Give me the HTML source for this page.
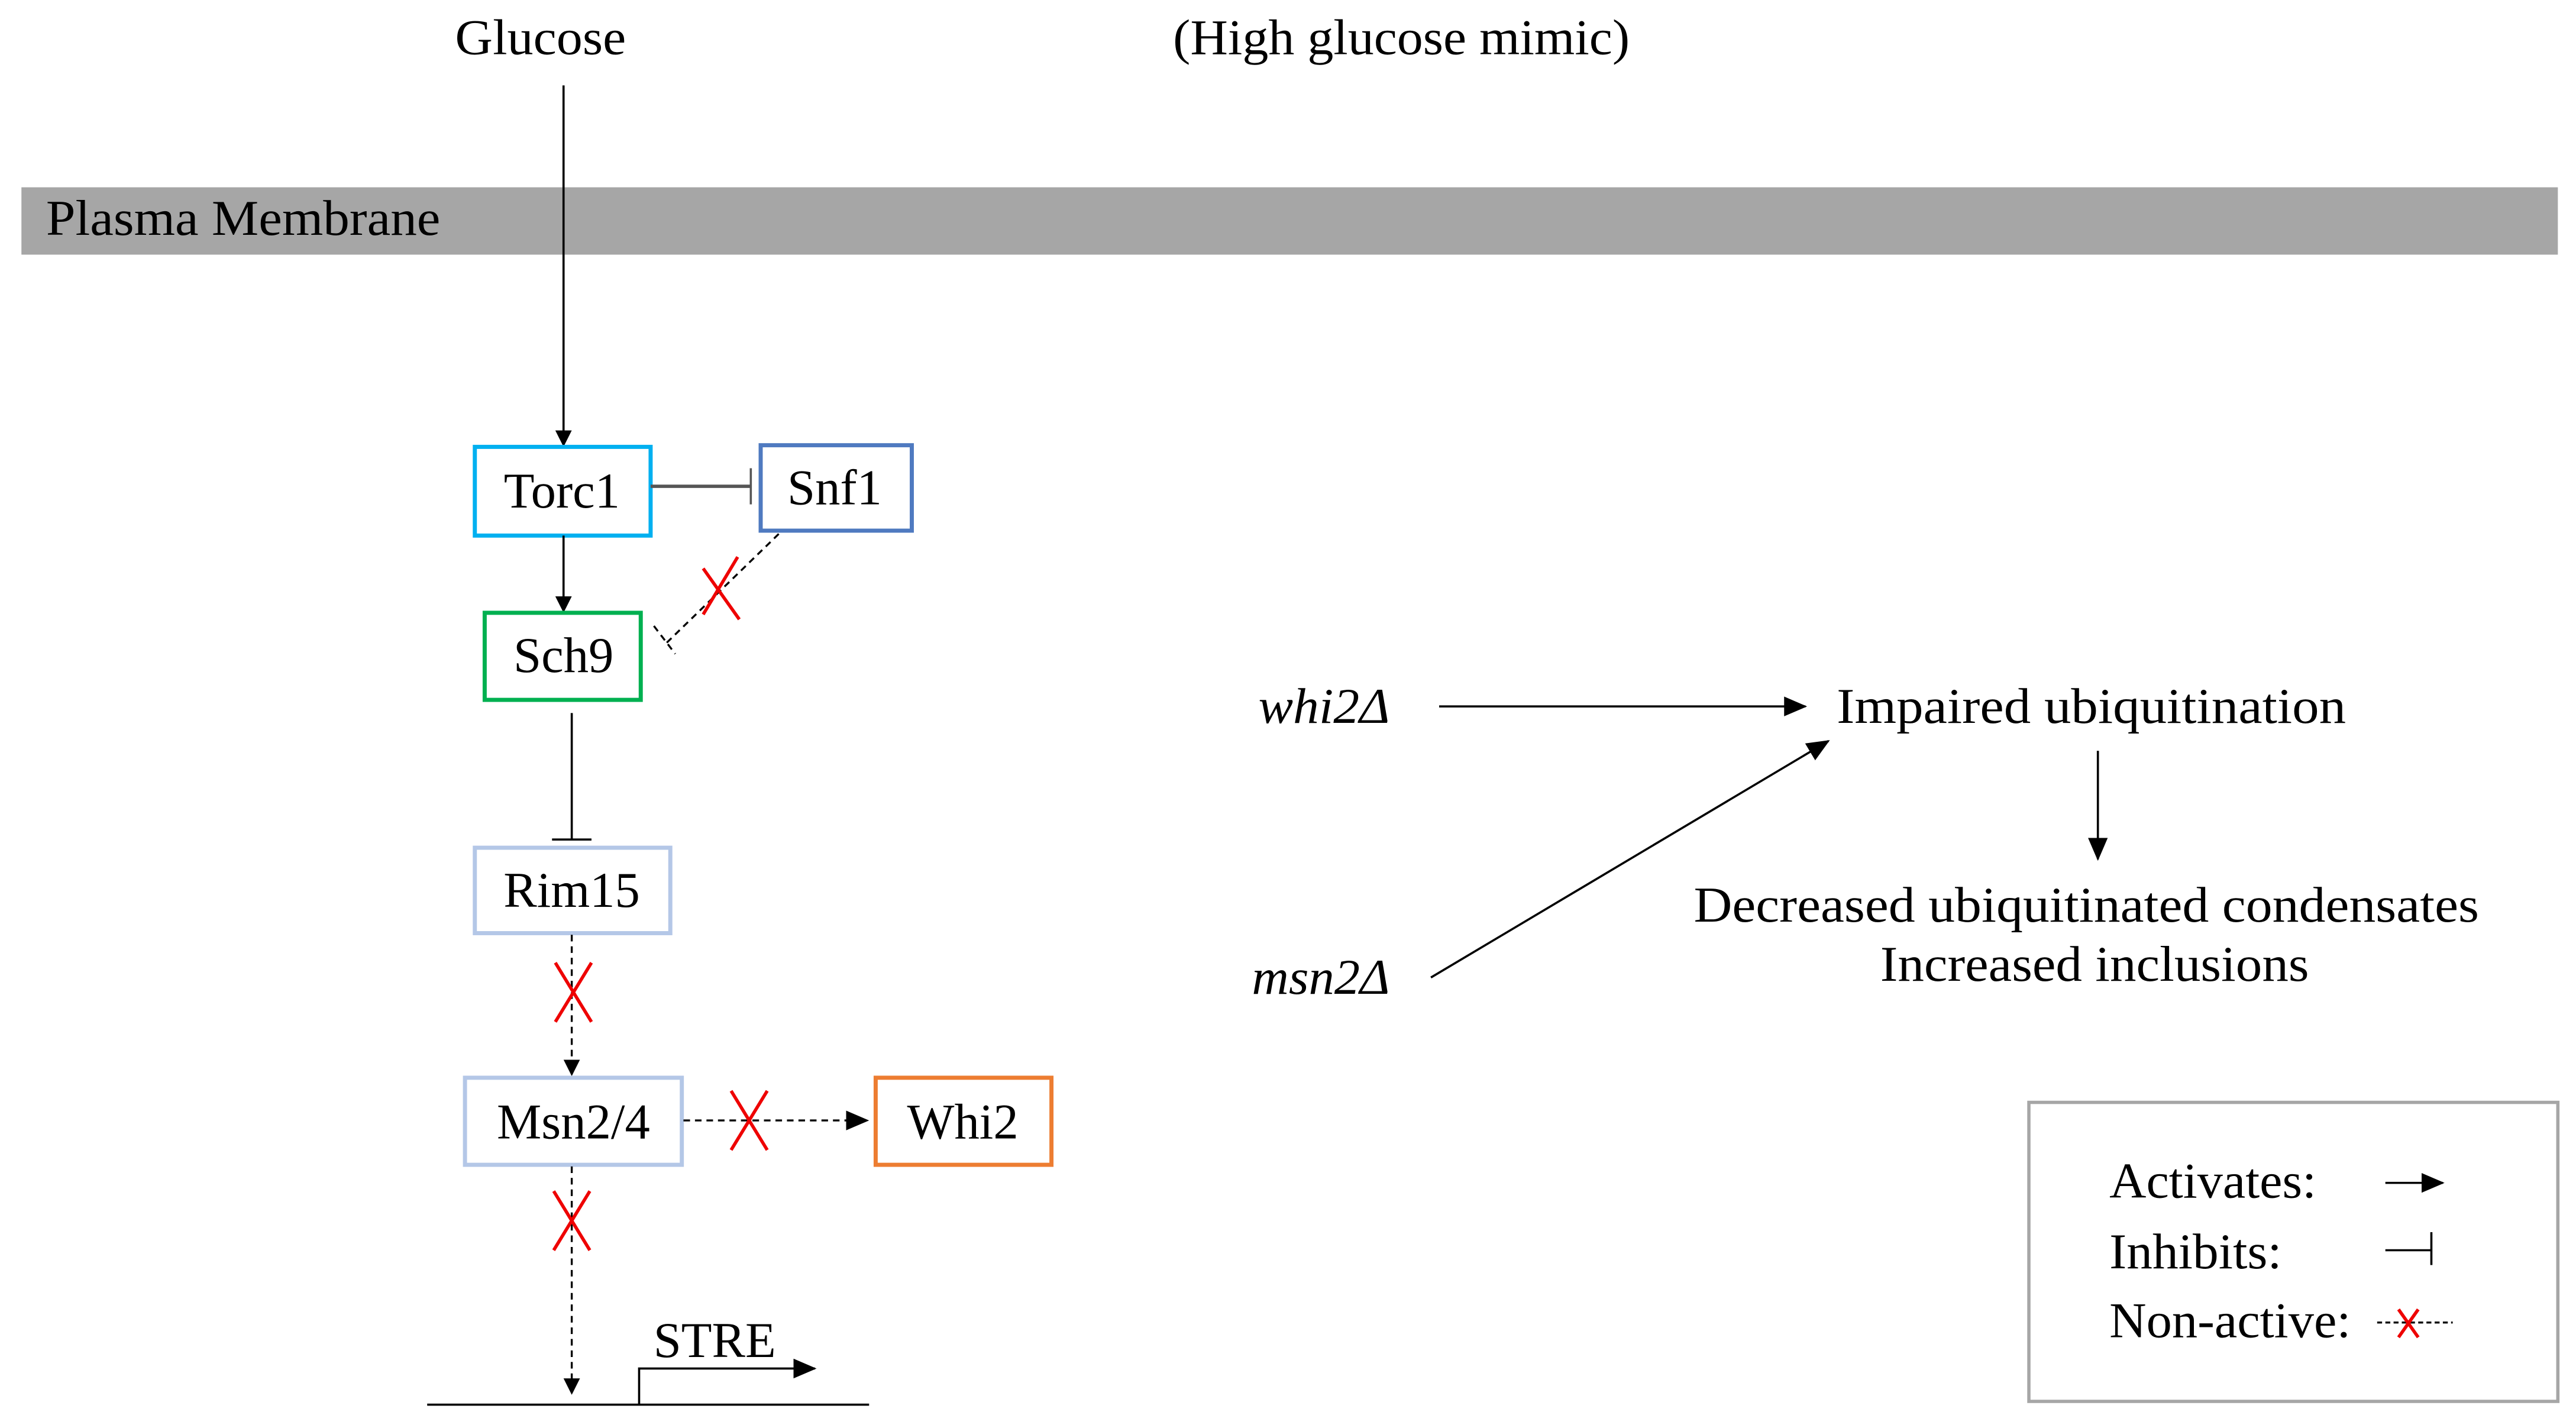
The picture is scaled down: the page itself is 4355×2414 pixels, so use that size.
<!DOCTYPE html>
<html><head><meta charset="utf-8"><style>html,body{margin:0;padding:0;background:#fff}svg{display:block}</style></head>
<body>
<svg xmlns="http://www.w3.org/2000/svg" width="4355" height="2414" viewBox="0 0 1568 869.2">
<defs>
<marker id="a" markerWidth="10" markerHeight="10" refX="9" refY="5" orient="auto" markerUnits="userSpaceOnUse"><path d="M0,0 L10,5 L0,10 Z" fill="#000"/></marker>
<marker id="b" markerWidth="14" markerHeight="12" refX="13" refY="6" orient="auto" markerUnits="userSpaceOnUse"><path d="M0,0 L14,6 L0,12 Z" fill="#000"/></marker>
</defs>
<rect width="1568" height="870" fill="#fff"/>
<g font-family="Liberation Serif, serif" font-size="30.5" fill="#000">
<text x="329" y="33" text-anchor="middle" textLength="104" lengthAdjust="spacingAndGlyphs">Glucose</text>
<text x="853" y="33" text-anchor="middle" textLength="278" lengthAdjust="spacingAndGlyphs">(High glucose mimic)</text>
<rect x="13" y="114" width="1544" height="41" fill="#a6a6a6"/>
<text x="28" y="143" textLength="240" lengthAdjust="spacingAndGlyphs">Plasma Membrane</text>

<line x1="343" y1="52" x2="343" y2="271" stroke="#000" stroke-width="1.3" marker-end="url(#a)"/>
<rect x="289" y="272" width="107" height="54" fill="#fff" stroke="#00b0f0" stroke-width="2.5"/>
<text x="342" y="309" text-anchor="middle">Torc1</text>
<rect x="463" y="271" width="92" height="52" fill="#fff" stroke="#4f7ac0" stroke-width="2.5"/>
<text x="508" y="307" text-anchor="middle">Snf1</text>
<line x1="396" y1="296" x2="457" y2="296" stroke="#555" stroke-width="2"/>
<line x1="457" y1="285" x2="457" y2="307" stroke="#555" stroke-width="1.3"/>
<line x1="343" y1="326" x2="343" y2="372" stroke="#000" stroke-width="1.3" marker-end="url(#a)"/>
<rect x="295" y="373" width="95" height="53" fill="#fff" stroke="#00b050" stroke-width="2.5"/>
<text x="343" y="409" text-anchor="middle">Sch9</text>
<line x1="474" y1="325" x2="405" y2="392" stroke="#000" stroke-width="1.2" stroke-dasharray="4,3"/>
<line x1="398" y1="381" x2="411" y2="398" stroke="#000" stroke-width="1.2" stroke-dasharray="4,3"/>
<g stroke="#e00" stroke-width="2"><line x1="428" y1="346" x2="450" y2="377"/><line x1="449" y1="339" x2="428" y2="374"/></g>

<line x1="348" y1="434" x2="348" y2="511" stroke="#000" stroke-width="1.3"/>
<line x1="336" y1="511" x2="360" y2="511" stroke="#000" stroke-width="1.3"/>
<rect x="289" y="516" width="119" height="52" fill="#fff" stroke="#b4c7e7" stroke-width="2.5"/>
<text x="348" y="552" text-anchor="middle">Rim15</text>
<line x1="348" y1="569" x2="348" y2="654" stroke="#000" stroke-width="1.2" stroke-dasharray="4,3" marker-end="url(#a)"/>
<g stroke="#e00" stroke-width="2"><line x1="338" y1="586" x2="360" y2="622"/><line x1="360" y1="586" x2="338" y2="622"/></g>
<rect x="283" y="656" width="132" height="53" fill="#fff" stroke="#b4c7e7" stroke-width="2.5"/>
<text x="349" y="693" text-anchor="middle">Msn2/4</text>
<line x1="416" y1="682" x2="528" y2="682" stroke="#000" stroke-width="1.2" stroke-dasharray="4,3" marker-end="url(#b)"/>
<g stroke="#e00" stroke-width="2"><line x1="445" y1="664" x2="467" y2="700"/><line x1="467" y1="664" x2="445" y2="700"/></g>
<rect x="533" y="656" width="107" height="53" fill="#fff" stroke="#ed7d31" stroke-width="2.5"/>
<text x="586" y="693" text-anchor="middle">Whi2</text>
<line x1="348" y1="710" x2="348" y2="848" stroke="#000" stroke-width="1.2" stroke-dasharray="4,3" marker-end="url(#a)"/>
<g stroke="#e00" stroke-width="2"><line x1="337" y1="725" x2="359" y2="761"/><line x1="359" y1="725" x2="337" y2="761"/></g>
<line x1="260" y1="855" x2="529" y2="855" stroke="#000" stroke-width="1.3"/>
<polyline points="389,855 389,833 496,833" fill="none" stroke="#000" stroke-width="1.3" marker-end="url(#b)"/>
<text x="435" y="826" text-anchor="middle">STRE</text>

<text x="766" y="440" font-style="italic" textLength="80" lengthAdjust="spacingAndGlyphs">whi2Δ</text>
<line x1="876" y1="430" x2="1099" y2="430" stroke="#000" stroke-width="1.3" marker-end="url(#b)"/>
<text x="1118" y="440" textLength="310" lengthAdjust="spacingAndGlyphs">Impaired ubiquitination</text>
<text x="762" y="605" font-style="italic" textLength="84" lengthAdjust="spacingAndGlyphs">msn2Δ</text>
<line x1="871" y1="595" x2="1113" y2="451" stroke="#000" stroke-width="1.3" marker-end="url(#b)"/>
<line x1="1277" y1="457" x2="1277" y2="523" stroke="#000" stroke-width="1.3" marker-end="url(#b)"/>
<text x="1270" y="561" text-anchor="middle" textLength="478" lengthAdjust="spacingAndGlyphs">Decreased ubiquitinated condensates</text>
<text x="1275" y="597" text-anchor="middle" textLength="261" lengthAdjust="spacingAndGlyphs">Increased inclusions</text>

<rect x="1235" y="671" width="322" height="182" fill="#fff" stroke="#a6a6a6" stroke-width="2"/>
<text x="1284" y="729" textLength="126" lengthAdjust="spacingAndGlyphs">Activates:</text>
<line x1="1452" y1="720" x2="1487" y2="720" stroke="#000" stroke-width="1.3" marker-end="url(#b)"/>
<text x="1284" y="772" textLength="105" lengthAdjust="spacingAndGlyphs">Inhibits:</text>
<line x1="1452" y1="761" x2="1480" y2="761" stroke="#000" stroke-width="1.3"/>
<line x1="1480" y1="750" x2="1480" y2="770" stroke="#000" stroke-width="1.3"/>
<text x="1284" y="814" textLength="147" lengthAdjust="spacingAndGlyphs">Non-active:</text>
<line x1="1447" y1="805" x2="1493" y2="805" stroke="#000" stroke-width="1.2" stroke-dasharray="3,2"/>
<g stroke="#e00" stroke-width="2"><line x1="1460" y1="797" x2="1472" y2="814"/><line x1="1472" y1="797" x2="1460" y2="814"/></g>
</g>
</svg>
</body></html>
